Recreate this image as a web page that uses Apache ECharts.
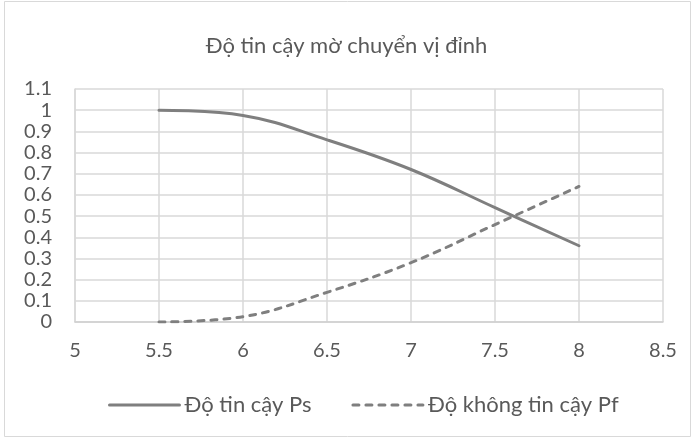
<!DOCTYPE html>
<html>
<head>
<meta charset="utf-8">
<style>
  html, body { margin: 0; padding: 0; background: #ffffff; }
  #chart { width: 693px; height: 441px; }
</style>
<script src="https://cdn.jsdelivr.net/npm/echarts@6/dist/echarts.min.js"></script>
</head>
<body>
<div id="chart"></div>
<script>
// Displacement values (x) and the two reliability curves
const displacement = [5.5, 6, 6.5, 7, 7.5, 8];
const reliabilityPs = [1.0, 0.975, 0.86, 0.72, 0.54, 0.36];
const failurePf = [0.0, 0.025, 0.14, 0.28, 0.46, 0.64];

const seriesNames = ['Độ tin cậy Ps', 'Độ không tin cậy Pf'];
const titleText = 'Độ tin cậy mờ chuyển vị đỉnh';

const FONT = 'Lato, "Open Sans", sans-serif';
const TEXT_COLOR = '#595959';
const LINE_COLOR = '#7f7f7f';
const GRID_COLOR = '#d9d9d9';

const toPairs = (xs, ys) => xs.map((x, i) => [x, ys[i]]);

const chart = echarts.init(document.getElementById('chart'), null, { renderer: 'canvas' });

chart.setOption({
  backgroundColor: '#ffffff',
  animation: false,
  textStyle: { fontFamily: FONT },
  title: {
    text: titleText,
    left: 'center',
    top: 30,
    textStyle: { fontFamily: FONT, fontSize: 22, fontWeight: 'normal', color: TEXT_COLOR }
  },
  graphic: [{
    type: 'rect',
    shape: { x: 4.5, y: 1.5, width: 686, height: 435 },
    style: { fill: 'none', stroke: GRID_COLOR, lineWidth: 1 },
    silent: true
  }],
  grid: { left: 75, right: 30, top: 89, bottom: 119, containLabel: false },
  legend: {
    bottom: 20,
    left: 103,
    itemGap: 40,
    itemWidth: 70,
    itemHeight: 3,
    itemStyle: { opacity: 0 },
    lineStyle: { width: 3, color: LINE_COLOR, cap: 'round' },
    textStyle: { fontFamily: FONT, fontSize: 22, color: TEXT_COLOR },
    data: seriesNames
  },
  xAxis: {
    type: 'value',
    min: 5,
    max: 8.5,
    interval: 0.5,
    axisLine: { show: true, lineStyle: { color: '#cfcfcf', width: 1.5 } },
    axisTick: { show: false },
    splitLine: { show: true, lineStyle: { color: GRID_COLOR, width: 1.5 } },
    axisLabel: { margin: 19, fontSize: 20, color: TEXT_COLOR, fontFamily: FONT }
  },
  yAxis: {
    type: 'value',
    min: 0,
    max: 1.1,
    interval: 0.1,
    axisLine: { show: true, lineStyle: { color: GRID_COLOR, width: 1.5 } },
    axisTick: { show: false },
    splitLine: { show: true, lineStyle: { color: GRID_COLOR, width: 1.5 } },
    axisLabel: {
      margin: 23,
      fontSize: 20,
      color: TEXT_COLOR,
      fontFamily: FONT,
      formatter: v => String(Math.round(v * 10) / 10)
    }
  },
  series: [
    {
      name: seriesNames[0],
      type: 'line',
      data: toPairs(displacement, reliabilityPs),
      smooth: 0.4,
      showSymbol: false,
      symbol: 'none',
      lineStyle: { color: LINE_COLOR, width: 3, cap: 'round' },
      itemStyle: { color: LINE_COLOR }
    },
    {
      name: seriesNames[1],
      type: 'line',
      data: toPairs(displacement, failurePf),
      smooth: 0.4,
      showSymbol: false,
      symbol: 'none',
      lineStyle: { color: LINE_COLOR, width: 3, type: [6, 7], cap: 'round' },
      itemStyle: { color: LINE_COLOR }
    }
  ]
});
</script>
</body>
</html>
